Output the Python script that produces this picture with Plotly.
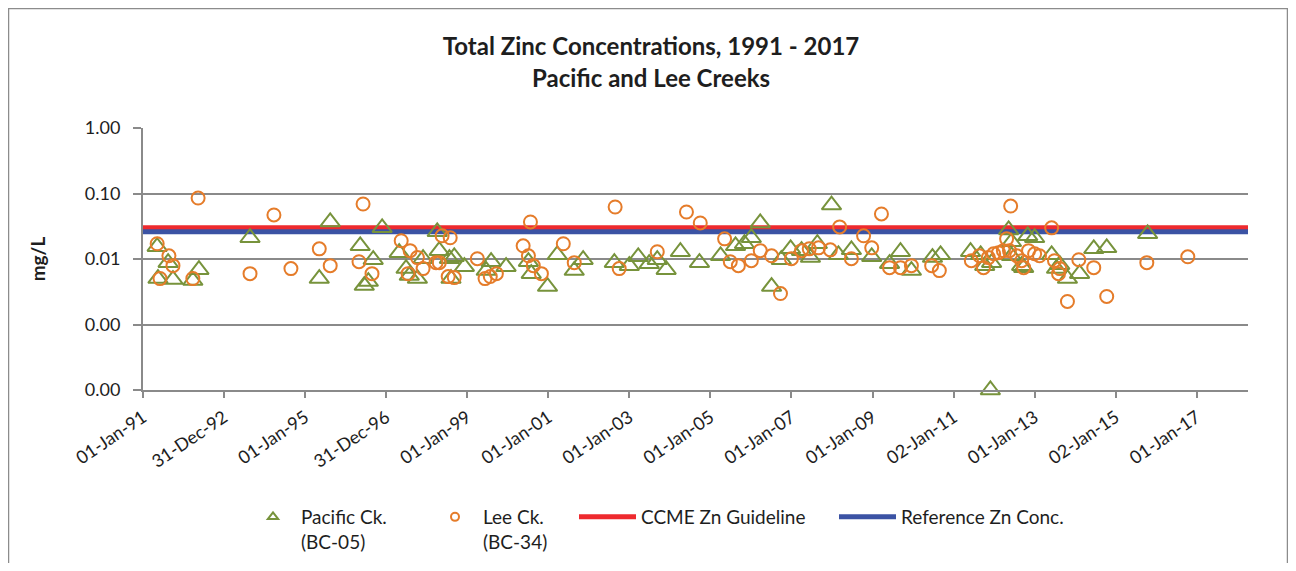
import plotly.graph_objects as go
import pandas as pd

# ---------------- data ----------------
pacific_year = [1991.35, 1991.37, 1991.62, 1991.74, 1992.23, 1992.38, 1993.64, 1995.35, 1995.62,
                1996.36, 1996.46, 1996.56, 1996.68, 1996.90, 1997.32, 1997.49, 1997.57, 1997.77,
                1997.91, 1998.26, 1998.31, 1998.56, 1998.60, 1998.68, 1998.93, 1999.47, 1999.59,
                1999.96, 2000.51, 2000.58, 2000.98, 2001.22, 2001.64, 2001.86, 2002.63, 2003.00,
                2003.22, 2003.49, 2003.69, 2003.91, 2004.26, 2004.73, 2005.25, 2005.62, 2005.84,
                2006.01, 2006.23, 2006.51, 2006.75, 2006.98, 2007.25, 2007.47, 2007.64, 2007.99,
                2008.16, 2008.48, 2008.98, 2009.42, 2009.69, 2009.96, 2010.48, 2010.68, 2011.42,
                2011.67, 2011.77, 2011.91, 2011.94, 2012.36, 2012.43, 2012.43, 2012.68, 2012.73,
                2012.83, 2013.00, 2013.42, 2013.54, 2013.62, 2013.81, 2014.11, 2014.46, 2014.78,
                2015.79]
pacific_zn = [0.0154, 0.00502, 0.00879, 0.00485, 0.00469, 0.00688, 0.0211, 0.00502, 0.0368,
              0.0159, 0.00393, 0.00452, 0.00976, 0.0299, 0.0125, 0.00713, 0.00558, 0.00502,
              0.0101, 0.0260, 0.0134, 0.0101, 0.00502, 0.0108, 0.00764, 0.00665, 0.00910,
              0.00764, 0.00910, 0.00598, 0.00380, 0.0116, 0.00665, 0.00976, 0.00879, 0.00791,
              0.0108, 0.00849, 0.00976, 0.00688, 0.0129, 0.00879, 0.0112, 0.0159, 0.0171,
              0.0211, 0.0355, 0.00380, 0.00976, 0.0143, 0.0134, 0.0105, 0.0171, 0.0667,
              0.0116, 0.0138, 0.0108, 0.00849, 0.0129, 0.00665, 0.0105, 0.0116, 0.0129,
              0.0116, 0.00791, 0.0001, 0.00879, 0.0278, 0.0183, 0.0112, 0.00791, 0.00738,
              0.0226, 0.0211, 0.0116, 0.00713, 0.00820, 0.00502, 0.00598, 0.0143, 0.0148,
              0.0242]

lee_year = [1991.35, 1991.42, 1991.64, 1991.74, 1992.23, 1992.36, 1993.64, 1994.23, 1994.65,
            1995.35, 1995.62, 1996.33, 1996.43, 1996.65, 1997.37, 1997.59, 1997.77, 1997.54,
            1997.91, 1998.23, 1998.31, 1998.38, 1998.58, 1998.53, 1998.68, 1999.25, 1999.44,
            1999.57, 1999.72, 2000.38, 2000.56, 2000.51, 2000.63, 2000.83, 2001.37, 2001.64,
            2002.65, 2002.75, 2003.69, 2004.41, 2004.75, 2005.35, 2005.49, 2005.69, 2006.01,
            2006.23, 2006.51, 2006.73, 2007.00, 2007.25, 2007.44, 2007.67, 2007.96, 2008.19,
            2008.48, 2008.78, 2008.98, 2009.22, 2009.42, 2009.69, 2009.96, 2010.46, 2010.65,
            2011.44, 2011.64, 2011.74, 2011.86, 2011.99, 2012.11, 2012.23, 2012.31, 2012.41,
            2012.38, 2012.56, 2012.68, 2012.73, 2012.85, 2013.00, 2013.12, 2013.42, 2013.49,
            2013.62, 2013.59, 2013.81, 2014.09, 2014.46, 2014.78, 2015.77, 2016.78]
lee_zn = [0.0171, 0.00502, 0.0112, 0.00791, 0.00502, 0.0852, 0.00598, 0.0470, 0.00713,
          0.0143, 0.00791, 0.00910, 0.0691, 0.00598, 0.0190, 0.0134, 0.0105, 0.00598,
          0.00713, 0.00879, 0.00879, 0.0226, 0.0211, 0.00539, 0.00520, 0.0101, 0.00502,
          0.00540, 0.00598, 0.0159, 0.0368, 0.0112, 0.00791, 0.00598, 0.0171, 0.00879,
          0.0622, 0.00713, 0.0129, 0.0522, 0.0355, 0.0203, 0.00910, 0.00791, 0.00942,
          0.0134, 0.0112, 0.00297, 0.0101, 0.0134, 0.0143, 0.0148, 0.0138, 0.0309,
          0.0101, 0.0226, 0.0148, 0.0487, 0.00738, 0.00738, 0.00791, 0.00791, 0.00665,
          0.00942, 0.0112, 0.00738, 0.0105, 0.0120, 0.0125, 0.0134, 0.0203, 0.0644,
          0.0134, 0.0112, 0.00942, 0.00738, 0.0134, 0.0120, 0.0112, 0.0299, 0.00942,
          0.00713, 0.00598, 0.00225, 0.00976, 0.00738, 0.00268, 0.00879, 0.0108]

ccme_guideline = 0.030
reference_conc = 0.026

x_range = ["1991-01-01", "2018-04-08"]
x_tick_dates = ["1991-01-01", "1992-12-31", "1995-01-01", "1996-12-31", "1999-01-01",
                "2001-01-01", "2003-01-01", "2005-01-01", "2007-01-01", "2009-01-01",
                "2011-01-02", "2013-01-01", "2015-01-02", "2017-01-01"]
x_tick_labels = ["01-Jan-91", "31-Dec-92", "01-Jan-95", "31-Dec-96", "01-Jan-99",
                 "01-Jan-01", "01-Jan-03", "01-Jan-05", "01-Jan-07", "01-Jan-09",
                 "02-Jan-11", "01-Jan-13", "02-Jan-15", "01-Jan-17"]
y_tick_vals = [0.0001, 0.001, 0.01, 0.1, 1.0]
y_tick_labels = ["0.00", "0.00", "0.01", "0.10", "1.00"]


def to_date(y):
    yr = int(y)
    start = pd.Timestamp(yr, 1, 1)
    end = pd.Timestamp(yr + 1, 1, 1)
    return start + (end - start) * (y - yr)


pacific_dates = [to_date(v) for v in pacific_year]
lee_dates = [to_date(v) for v in lee_year]

FONT = "Lato"
TXT = "#1e1e1e"
GRID = "#8a8a8a"
GREEN = "#77933C"
ORANGE = "#E57C2A"
RED = "#EE2A2E"
BLUE = "#3B53A4"

# figure geometry (the page adds an 8px body margin)
W, H = 1280, 555
L, R, T, B = 135, 40, 120, 173
pw, ph = W - L - R, H - T - B
OFF = 8


def px(xp):  # page pixel x -> paper x
    return (xp - OFF - L) / pw


def py(yp):  # page pixel y -> paper y
    return (H - B - (yp - OFF)) / ph


fig = go.Figure()

# plotted series (legend drawn by separate small-symbol entries)
fig.add_trace(go.Scatter(
    x=x_range, y=[ccme_guideline] * 2, mode="lines", name="CCME Zn Guideline",
    line=dict(color=RED, width=5), showlegend=False))
fig.add_trace(go.Scatter(
    x=x_range, y=[reference_conc] * 2, mode="lines", name="Reference Zn Conc.",
    line=dict(color=BLUE, width=5), showlegend=False))
fig.add_trace(go.Scatter(
    x=pacific_dates, y=pacific_zn, mode="markers", name="Pacific Ck. (BC-05)",
    marker=dict(symbol="triangle-up-open", size=17, color=GREEN, line=dict(width=2, color=GREEN)),
    cliponaxis=False, showlegend=False))
fig.add_trace(go.Scatter(
    x=lee_dates, y=lee_zn, mode="markers", name="Lee Ck. (BC-34)",
    marker=dict(symbol="circle-open", size=13, color=ORANGE, line=dict(width=2, color=ORANGE)),
    cliponaxis=False, showlegend=False))

# legend entries
fig.add_trace(go.Scatter(
    x=[None], y=[None], mode="markers", name="Pacific Ck.<br>(BC-05)", legend="legend",
    marker=dict(symbol="triangle-up-open", size=9, color=GREEN, line=dict(width=2, color=GREEN))))
fig.add_trace(go.Scatter(
    x=[None], y=[None], mode="markers", name="Lee Ck.<br>(BC-34)", legend="legend2",
    marker=dict(symbol="circle-open", size=8, color=ORANGE, line=dict(width=2, color=ORANGE))))
fig.add_trace(go.Scatter(
    x=[None], y=[None], mode="lines", name="CCME Zn Guideline", legend="legend3",
    line=dict(color=RED, width=5)))
fig.add_trace(go.Scatter(
    x=[None], y=[None], mode="lines", name="Reference Zn Conc.", legend="legend4",
    line=dict(color=BLUE, width=5)))

leg_marker = dict(orientation="v", xanchor="left", yanchor="top", bgcolor="rgba(0,0,0,0)",
                  font=dict(family=FONT, size=19, color=TXT), valign="top", itemwidth=46,
                  tracegroupgap=0)
leg_line = dict(leg_marker, itemwidth=57)
legend_y = py(498)

fig.update_layout(
    width=W, height=H,
    margin=dict(l=L, r=R, t=T, b=B, autoexpand=False),
    paper_bgcolor="white", plot_bgcolor="white",
    font=dict(family=FONT, color=TXT),
    title=dict(text="<b>Total Zinc Concentrations, 1991 - 2017</b>", x=(651 - OFF) / W,
               xref="container", xanchor="center", y=1 - (47 - OFF) / H, yref="container",
               yanchor="middle", font=dict(family=FONT, size=24, color=TXT)),
    xaxis=dict(type="date", range=x_range, tickvals=x_tick_dates, ticktext=x_tick_labels,
               tickangle=-34, ticks="outside", ticklen=6, tickwidth=2, tickcolor=GRID,
               showline=True, linecolor=GRID, linewidth=2, showgrid=False, zeroline=False,
               automargin=False, ticklabelstandoff=2,
               tickfont=dict(family=FONT, size=18, color=TXT)),
    yaxis=dict(type="log", range=[-4, 0], tickvals=y_tick_vals, ticktext=y_tick_labels,
               ticks="outside", ticklen=8, tickwidth=2, tickcolor=GRID,
               showline=True, linecolor=GRID, linewidth=2, showgrid=True, gridcolor=GRID,
               gridwidth=2, zeroline=False, ticklabelstandoff=9, automargin=False,
               tickfont=dict(family=FONT, size=18, color=TXT),
               title=dict(text="<b>mg/L</b>", standoff=34, font=dict(family=FONT, size=19, color=TXT))),
    legend=dict(x=px(245), y=legend_y, **leg_marker),
    legend2=dict(x=px(427), y=legend_y, **leg_marker),
    legend3=dict(x=px(574), y=legend_y, **leg_line),
    legend4=dict(x=px(834), y=legend_y, **leg_line),
    annotations=[dict(text="<b>Pacific and Lee Creeks</b>", xref="paper", yref="paper",
                      x=px(651), y=py(77), xanchor="center", yanchor="middle", showarrow=False,
                      font=dict(family=FONT, size=24, color=TXT))],
    shapes=[dict(type="path", xref="paper", yref="paper",
                 path="M {a},{b} L {a},{c} L {d},{c} L {d},{b}".format(
                     a=px(8.5), b=py(600), c=py(8.5), d=px(1287.5)),
                 line=dict(color="#8c8c8c", width=1.5), layer="below")],
    showlegend=True,
)

fig.write_html("out.html")
